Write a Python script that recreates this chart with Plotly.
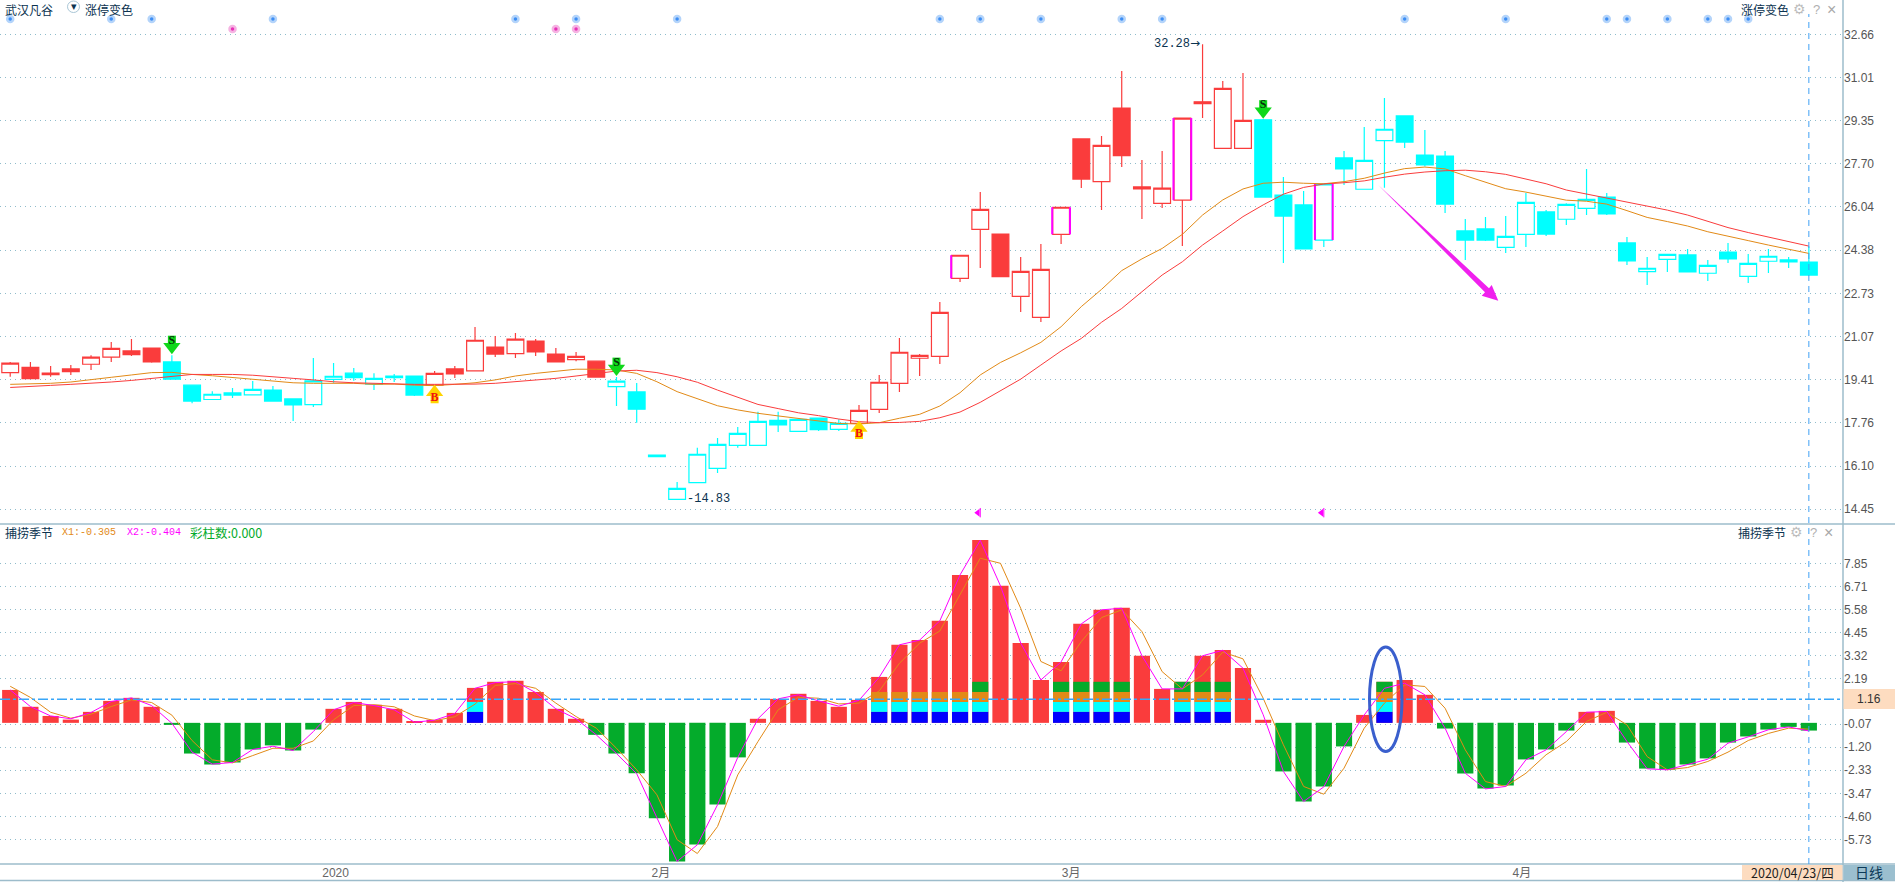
import plotly.graph_objects as go

W, H = 1895, 882
CJK = "Noto Sans CJK SC, Liberation Sans, sans-serif"
NUM = "Liberation Sans, Noto Sans CJK SC, sans-serif"

RED = "#fa3c3c"
CYAN = "#00ffff"
GREEN = "#04ab2b"
ORANGE = "#e28a17"
MAGENTA = "#ff00ff"
BLUE = "#0000ff"
GRID = "#8fbccb"
BORDER = "#9dbccb"
PEACH = "#fddcc0"
DARK = "#0b3350"

# Daily candles
high = [20.10, 20.10, 19.94, 19.98, 20.36, 20.86, 20.98, 20.63, 20.36, 19.21,
        18.98, 19.10, 19.37, 19.18, 18.68, 20.25, 20.06, 19.87, 19.67, 19.64,
        19.56, 19.75, 19.94, 21.44, 21.09, 21.21, 20.98, 20.63, 20.48, 20.13,
        19.52, 19.29, 16.53, 15.50, 16.81, 17.18, 17.60, 18.19, 18.19, 17.90,
        17.95, 17.90, 18.45, 19.60, 21.02, 20.40, 22.40, 24.20, 26.61, 25.00,
        24.12, 24.62, 26.03, 28.65, 28.76, 31.25, 27.84, 28.19, 29.45, 32.28,
        30.87, 31.18, 29.41, 27.19, 26.65, 26.92, 28.19, 29.11, 30.22, 29.53,
        28.99, 28.19, 25.58, 25.66, 25.69, 26.58, 25.92, 26.18, 27.50, 26.58,
        24.89, 24.12, 24.22, 24.43, 24.01, 24.66, 24.24, 24.43, 24.12, 24.53]
low = [19.53, 19.46, 19.53, 19.60, 19.79, 20.10, 20.33, 20.07, 19.43, 18.52,
       18.66, 18.72, 18.83, 18.60, 17.83, 18.37, 19.30, 19.38, 19.02, 19.33,
       18.79, 19.18, 19.48, 19.76, 20.29, 20.25, 20.33, 20.10, 20.13, 19.52,
       18.41, 17.77, 16.47, 14.83, 15.47, 15.84, 16.81, 16.90, 17.41, 17.44,
       17.45, 17.45, 17.72, 18.14, 18.95, 19.56, 20.02, 23.16, 23.70, 23.37,
       22.01, 21.63, 24.62, 26.77, 25.92, 27.57, 25.58, 26.00, 24.54, 29.45,
       28.29, 28.29, 26.42, 23.89, 24.43, 24.51, 26.88, 26.72, 26.78, 28.30,
       27.59, 25.81, 24.01, 24.74, 24.28, 24.51, 24.93, 25.35, 25.73, 25.73,
       23.82, 23.05, 23.55, 23.55, 23.20, 23.89, 23.13, 23.51, 23.70, 23.43]
opens = [19.69, 19.89, 19.67, 19.83, 20.01, 20.28, 20.52, 20.63, 20.10, 19.21,
         18.66, 18.91, 18.84, 19.02, 18.68, 18.46, 19.43, 19.67, 19.25, 19.56,
         19.56, 19.21, 19.83, 19.76, 20.67, 20.42, 20.90, 20.40, 20.19, 20.13,
         19.15, 18.95, 16.53, 14.83, 15.47, 16.02, 16.90, 16.90, 17.86, 17.44,
         17.95, 17.51, 17.74, 18.28, 19.28, 20.24, 20.31, 23.30, 25.18, 25.00,
         22.61, 21.81, 24.99, 28.65, 27.01, 29.83, 26.81, 26.18, 26.30, 30.07,
         28.29, 28.29, 29.38, 26.50, 26.12, 24.77, 27.92, 26.72, 28.58, 29.53,
         28.03, 27.99, 25.12, 25.20, 24.49, 24.99, 25.85, 25.57, 25.99, 26.42,
         24.66, 23.56, 24.03, 24.20, 23.50, 24.31, 23.38, 23.96, 24.01, 23.93]
closes = [20.05, 19.46, 19.61, 19.73, 20.28, 20.62, 20.38, 20.10, 19.44, 18.60,
          18.86, 18.83, 19.05, 18.60, 18.45, 19.37, 19.55, 19.50, 19.47, 19.50,
          18.83, 19.66, 19.64, 20.93, 20.40, 20.97, 20.48, 20.10, 20.31, 19.52,
          19.36, 18.29, 16.47, 15.25, 16.56, 16.94, 17.36, 17.82, 17.69, 17.90,
          17.50, 17.74, 18.24, 19.32, 20.47, 20.35, 22.00, 24.19, 25.95, 23.37,
          23.57, 23.65, 26.03, 27.11, 28.40, 28.01, 26.73, 26.76, 29.45, 30.00,
          30.59, 29.36, 26.42, 25.69, 24.43, 26.92, 27.50, 27.83, 29.02, 28.53,
          27.65, 26.15, 24.77, 24.77, 24.91, 26.22, 25.00, 26.14, 26.33, 25.77,
          23.97, 23.69, 24.22, 23.55, 23.80, 24.05, 23.88, 24.15, 23.93, 23.43]
red_days = [*range(0, 8), *range(21, 30), *range(42, 62)]
limit_left_days = [47, 52, 58, 65]
limit_right_days = [52, 58, 65]

# Two moving averages over the candles
ma_red = [19.12, 19.15, 19.20, 19.24, 19.28, 19.33, 19.39, 19.46, 19.55, 19.62,
          19.62, 19.62, 19.59, 19.52, 19.47, 19.41, 19.34, 19.30, 19.28, 19.25,
          19.24, 19.24, 19.24, 19.25, 19.28, 19.34, 19.41, 19.47, 19.56, 19.66,
          19.75, 19.78, 19.69, 19.53, 19.32, 19.02, 18.74, 18.47, 18.31, 18.15,
          18.04, 17.91, 17.81, 17.77, 17.78, 17.82, 17.96, 18.18, 18.55, 19.00,
          19.44, 19.98, 20.52, 21.00, 21.62, 22.15, 22.79, 23.43, 23.94, 24.58,
          25.12, 25.67, 26.12, 26.53, 26.79, 26.92, 26.97, 27.04, 27.18, 27.30,
          27.38, 27.43, 27.45, 27.39, 27.29, 27.11, 26.93, 26.69, 26.54, 26.37,
          26.23, 26.09, 25.92, 25.73, 25.50, 25.25, 25.06, 24.88, 24.70, 24.54]
ma_orange = [19.24, 19.25, 19.28, 19.33, 19.41, 19.51, 19.60, 19.69, 19.70, 19.62,
             19.57, 19.50, 19.44, 19.38, 19.30, 19.28, 19.28, 19.28, 19.24, 19.25,
             19.21, 19.19, 19.24, 19.30, 19.41, 19.56, 19.66, 19.75, 19.82, 19.82,
             19.79, 19.66, 19.34, 18.96, 18.68, 18.42, 18.26, 18.13, 18.03, 17.94,
             17.85, 17.74, 17.72, 17.77, 17.94, 18.09, 18.41, 18.92, 19.60, 20.08,
             20.45, 20.85, 21.45, 22.22, 22.88, 23.60, 24.05, 24.45, 24.99, 25.73,
             26.31, 26.73, 26.95, 26.99, 26.95, 26.93, 27.01, 27.14, 27.34, 27.51,
             27.57, 27.50, 27.24, 27.00, 26.74, 26.61, 26.45, 26.30, 26.26, 26.15,
             25.90, 25.64, 25.48, 25.31, 25.09, 24.93, 24.75, 24.58, 24.43, 24.26]

# Markers on the upper pane
blue_star_days = [0, 5, 7, 13, 25, 28, 33, 46, 48, 51, 55, 57, 69, 74, 79, 80, 82, 84, 85, 86]
pink_star_days = [11, 27, 28]
sell_days = [8, 30, 62]
sell_tips = [20.53, 19.69, 29.56]
buy_days = [21, 42]
buy_tips = [19.09, 17.72]
flag_days = [48, 65]

# Lower pane
hist = [1.62, 0.79, 0.34, 0.16, 0.54, 1.08, 1.23, 0.79, -0.10, -1.51,
        -2.05, -1.95, -1.31, -1.11, -1.36, -0.33, 0.69, 1.03, 0.89, 0.69,
        0.05, 0.15, 0.49, 1.72, 2.02, 2.07, 1.52, 0.69, 0.20, -0.59,
        -1.51, -2.48, -4.70, -6.82, -5.98, -4.02, -1.70, 0.20, 1.18, 1.43,
        1.08, 0.79, 1.13, 2.26, 3.84, 4.08, 5.02, 7.28, 9.00, 6.74,
        3.93, 2.11, 3.00, 4.87, 5.56, 5.66, 3.30, 1.67, 2.02, 3.30,
        3.59, 2.70, 0.15, -2.39, -3.87, -3.13, -1.16, 0.39, 2.02, 2.11,
        1.38, -0.28, -2.49, -3.23, -3.08, -1.80, -1.31, -0.38, 0.54, 0.59,
        -0.97, -2.25, -2.30, -2.05, -1.75, -0.97, -0.67, -0.33, -0.20, -0.38]
x2_line = [1.62, 0.80, 0.34, 0.20, 0.51, 1.05, 1.23, 0.85, -0.02, -1.44,
           -2.03, -1.95, -1.31, -1.15, -1.36, -0.43, 0.64, 1.00, 0.85, 0.64,
           0.03, 0.13, 0.46, 1.70, 1.98, 2.03, 1.49, 0.69, 0.20, -0.59,
           -1.51, -2.50, -4.67, -6.82, -6.00, -4.03, -1.70, 0.20, 1.18, 1.38,
           1.08, 0.82, 1.11, 2.24, 3.84, 4.07, 5.02, 7.28, 8.98, 6.74,
           3.93, 2.11, 3.00, 4.87, 5.56, 5.64, 3.30, 1.67, 1.67, 3.30,
           3.57, 2.69, 0.40, -2.39, -3.87, -3.15, -1.16, 0.39, 1.70, 1.95,
           1.38, -0.26, -2.48, -3.25, -3.13, -1.82, -1.33, -0.43, 0.52, 0.56,
           -0.92, -2.26, -2.31, -2.06, -1.79, -1.00, -0.69, -0.34, -0.20, -0.40]
x1_line = [1.80, 1.25, 0.52, 0.23, 0.43, 0.80, 1.13, 1.00, 0.38, -0.87,
           -1.82, -1.97, -1.61, -1.25, -1.25, -0.89, 0.15, 0.85, 0.89, 0.79,
           0.34, 0.11, 0.30, 0.92, 1.84, 1.93, 1.70, 0.97, 0.31, -0.26,
           -1.25, -2.31, -3.54, -5.75, -6.43, -5.10, -2.56, -0.92, 0.64, 1.26,
           1.21, 0.93, 0.97, 1.57, 2.93, 3.92, 4.52, 6.30, 8.10, 7.85,
           5.64, 3.02, 2.56, 4.00, 5.18, 5.56, 4.49, 2.52, 1.67, 2.36,
           3.48, 3.15, 1.21, -1.08, -3.13, -3.51, -2.23, -0.26, 0.97, 1.87,
           1.79, 0.72, -1.33, -2.89, -3.13, -2.48, -1.57, -0.92, 0.07, 0.52,
           -0.10, -1.66, -2.31, -2.20, -1.90, -1.44, -0.87, -0.52, -0.26, -0.31]

# Colour blocks stacked from zero: (days, base, height, colour)
blue_days = [23, *range(43, 49), *range(52, 56), 58, 59, 60, 68]
cyan_days = [23, *range(43, 49), *range(52, 56), 58, 59, 60, 68]
orange_days = [*range(43, 49), *range(52, 56), 58, 59, 60, 68]
green_days = [48, *range(52, 56), 58, 59, 60, 68]
block_bases = [0, 0.54, 1.03, 1.52]
block_heights = [0.54, 0.49, 0.49, 0.50]

upper_ticks = [32.66, 31.01, 29.35, 27.70, 26.04, 24.38, 22.73, 21.07, 19.41, 17.76, 16.10, 14.45]
lower_ticks = [7.85, 6.71, 5.58, 4.45, 3.32, 2.19, -0.07, -1.20, -2.33, -3.47, -4.60, -5.73]
lower_tick_text = ["7.85", "6.71", "5.58", "4.45", "3.32", "2.19", "-0.07", "-1.20", "-2.33", "-3.47", "-4.60", "-5.73"]
month_ticks = [16.1, 32.2, 52.5, 74.8]
month_labels = ["2020", "2月", "3月", "4月"]
ref_level = 1.16

days = list(range(len(high)))


def px(x):
    return x / W


def py(y):
    return 1 - y / H


PX_PRICE = 1 / 26.08  # one screen pixel in price units, upper pane

fig = go.Figure()

# Candles
for colour, picked in ((RED, red_days), (CYAN, [d for d in days if d not in red_days])):
    fig.add_trace(go.Candlestick(
        x=picked,
        open=[opens[d] for d in picked],
        high=[high[d] for d in picked],
        low=[low[d] for d in picked],
        close=[closes[d] for d in picked],
        increasing=dict(line=dict(color=colour, width=1.2), fillcolor="white"),
        decreasing=dict(line=dict(color=colour, width=1.2), fillcolor=colour),
        whiskerwidth=0,
        hoverinfo="skip",
    ))

# Magenta edges on limit-up days
limit_x, limit_y = [], []
for d in limit_left_days:
    bottom, top = sorted((opens[d], closes[d]))
    limit_x += [d - 0.44, d - 0.44, None]
    limit_y += [bottom, top, None]
for d in limit_right_days:
    bottom, top = sorted((opens[d], closes[d]))
    limit_x += [d + 0.44, d + 0.44, None]
    limit_y += [bottom, top, None]
fig.add_trace(go.Scatter(x=limit_x, y=limit_y, mode="lines", line=dict(color=MAGENTA, width=2), hoverinfo="skip"))

fig.add_trace(go.Scatter(x=days, y=ma_orange, mode="lines", line=dict(color=ORANGE, width=1), hoverinfo="skip"))
fig.add_trace(go.Scatter(x=days, y=ma_red, mode="lines", line=dict(color=RED, width=1), hoverinfo="skip"))

# Star rows along the top
fig.add_trace(go.Scatter(
    x=blue_star_days, y=[33.25] * len(blue_star_days), mode="markers",
    marker=dict(symbol="circle", size=6, color="#3d8ef5", line=dict(color="#b4d4fa", width=2.5)),
    hoverinfo="skip",
))
fig.add_trace(go.Scatter(
    x=pink_star_days, y=[32.86] * len(pink_star_days), mode="markers",
    marker=dict(symbol="circle", size=6, color="#e831b8", line=dict(color="#f5b3e2", width=2.5)),
    hoverinfo="skip",
))

# S and B arrows
fig.add_trace(go.Scatter(
    x=sell_days, y=[t + 11 * PX_PRICE for t in sell_tips], mode="markers",
    marker=dict(symbol="square", size=8, color="#0fd81a"), hoverinfo="skip",
))
fig.add_trace(go.Scatter(
    x=sell_days, y=[t + 4 * PX_PRICE for t in sell_tips], mode="markers",
    marker=dict(symbol="triangle-down", size=15, color="#0fd81a"), hoverinfo="skip",
))
fig.add_trace(go.Scatter(
    x=sell_days, y=[t + 10 * PX_PRICE for t in sell_tips], mode="text", text=["S"] * len(sell_days),
    textposition="middle center", textfont=dict(family="Liberation Serif", size=12, color="#05300a", weight="bold"),
    hoverinfo="skip",
))
fig.add_trace(go.Scatter(
    x=buy_days, y=[t - 11 * PX_PRICE for t in buy_tips], mode="markers",
    marker=dict(symbol="square", size=8, color="#ffd400"), hoverinfo="skip",
))
fig.add_trace(go.Scatter(
    x=buy_days, y=[t - 4 * PX_PRICE for t in buy_tips], mode="markers",
    marker=dict(symbol="triangle-up", size=15, color="#ffd400"), hoverinfo="skip",
))
fig.add_trace(go.Scatter(
    x=buy_days, y=[t - 10 * PX_PRICE for t in buy_tips], mode="text", text=["B"] * len(buy_days),
    textposition="middle center", textfont=dict(family="Liberation Serif", size=12, color="#f01010", weight="bold"),
    hoverinfo="skip",
))

# Small flags at the foot of the upper pane
flag_x, flag_y = [], []
for d in flag_days:
    flag_x += [d, d, None]
    flag_y += [14.5, 14.14, None]
fig.add_trace(go.Scatter(x=flag_x, y=flag_y, mode="lines", line=dict(color=MAGENTA, width=1), hoverinfo="skip"))
fig.add_trace(go.Scatter(
    x=[d - 0.12 for d in flag_days], y=[14.32] * len(flag_days), mode="markers",
    marker=dict(symbol="triangle-left", size=7, color=MAGENTA), hoverinfo="skip",
))

# Lower pane bars
fig.add_trace(go.Bar(
    x=days, y=hist, width=0.8, xaxis="x2", yaxis="y2",
    marker=dict(color=[RED if v > 0 else GREEN for v in hist], line=dict(width=0)),
    hoverinfo="skip",
))
for picked, base, height, colour in zip(
    (blue_days, cyan_days, orange_days, green_days), block_bases, block_heights, (BLUE, CYAN, ORANGE, GREEN)
):
    fig.add_trace(go.Bar(
        x=picked, y=[height] * len(picked), base=base, width=0.8, xaxis="x2", yaxis="y2",
        marker=dict(color=colour, line=dict(width=0)), hoverinfo="skip",
    ))
fig.add_trace(go.Scatter(x=days, y=x1_line, mode="lines", xaxis="x2", yaxis="y2",
                         line=dict(color=ORANGE, width=1), hoverinfo="skip"))
fig.add_trace(go.Scatter(x=days, y=x2_line, mode="lines", xaxis="x2", yaxis="y2",
                         line=dict(color=MAGENTA, width=1), hoverinfo="skip"))

x_range = [-0.505, 90.69]
x_domain = [0, px(1843)]
grid = dict(showgrid=True, gridcolor=GRID, gridwidth=1, griddash="1px,4px", zeroline=False,
            showline=False, ticks="", side="right", tickmode="array",
            tickfont=dict(family=NUM, size=12, color="#555555"))

fig.update_layout(
    width=W, height=H, autosize=False,
    margin=dict(l=0, r=0, t=0, b=0),
    paper_bgcolor="white", plot_bgcolor="white",
    showlegend=False, barmode="overlay", boxgap=0.17, boxgroupgap=0,
    hovermode=False,
    xaxis=dict(domain=x_domain, range=x_range, anchor="y", showticklabels=False, showgrid=False,
               zeroline=False, ticks="", rangeslider=dict(visible=False)),
    yaxis=dict(domain=[py(524), 1], range=[13.886, 33.975], anchor="x", tickvals=upper_ticks,
               ticktext=[f"{v:.2f}" for v in upper_ticks], **grid),
    xaxis2=dict(domain=x_domain, range=x_range, anchor="y2", showgrid=False, zeroline=False, ticks="",
                tickmode="array", tickvals=month_ticks, ticktext=month_labels,
                tickfont=dict(family=NUM, size=12, color="#666666")),
    yaxis2=dict(domain=[py(864), py(524)], range=[-6.945, 9.784], anchor="x2", tickvals=lower_ticks,
                ticktext=lower_tick_text, **grid),
)

# Frame and reference lines
shapes = [
    dict(type="line", xref="paper", yref="paper", x0=0, x1=1, y0=py(524), y1=py(524), line=dict(color=BORDER, width=1.5)),
    dict(type="line", xref="paper", yref="paper", x0=0, x1=1, y0=py(864), y1=py(864), line=dict(color=BORDER, width=1.5)),
    dict(type="line", xref="paper", yref="paper", x0=0, x1=1, y0=py(880.5), y1=py(880.5), line=dict(color=BORDER, width=1.5)),
    dict(type="line", xref="paper", yref="paper", x0=px(1843), x1=px(1843), y0=0, y1=1, line=dict(color=BORDER, width=1.5)),
    dict(type="line", xref="x", yref="paper", x0=days[-1], x1=days[-1], y0=py(864), y1=py(14),
         line=dict(color="#3fa0f5", width=1, dash="6px,5px")),
    dict(type="line", xref="x2", yref="y2", x0=x_range[0], x1=x_range[1], y0=ref_level, y1=ref_level,
         line=dict(color="#38a6f8", width=1.3, dash="10px,3px,3px,3px")),
    dict(type="rect", xref="paper", yref="paper", x0=px(1843.5), x1=1, y0=py(709), y1=py(689),
         fillcolor=PEACH, line=dict(width=0)),
    dict(type="rect", xref="paper", yref="paper", x0=px(1742), x1=px(1842.5), y0=py(880), y1=py(865),
         fillcolor=PEACH, line=dict(width=0)),
    dict(type="rect", xref="paper", yref="paper", x0=px(1843.5), x1=1, y0=py(880), y1=py(865),
         fillcolor="#9bbfcf", line=dict(width=0)),
    # Blue ring drawn by hand on the chart
    dict(type="circle", xref="paper", yref="paper", x0=px(1369.5), x1=px(1402), y0=py(751.5), y1=py(647),
         line=dict(color="#3a5fcd", width=3)),
    # Dropdown button next to the name
    dict(type="circle", xref="paper", yref="paper", x0=px(67.5), x1=px(79.5), y0=py(12.5), y1=py(1),
         line=dict(color="#a9c6d6", width=1), fillcolor="white"),
    # Big magenta arrow drawn by hand
    dict(type="path", xref="paper", yref="paper", fillcolor="#f020ee", line=dict(width=0),
         path="M {} {} L {} {} L {} {} L {} {} L {} {} L {} {} Z".format(
             px(1378.3), py(185), px(1489), py(288.3), px(1491.7), py(285), px(1498.3), py(300.7),
             px(1481.7), py(295.7), px(1485), py(292.3))),
]
fig.update_layout(shapes=shapes)


def label(x, y, text, color=DARK, size=12, family=CJK, anchor="left"):
    fig.add_annotation(xref="paper", yref="paper", x=px(x), y=py(y), text=text, showarrow=False,
                       xanchor=anchor, yanchor="middle", font=dict(family=family, size=size, color=color),
                       borderpad=0, borderwidth=0)


# Header of the upper pane
label(5, 9, "武汉凡谷", size=12)
label(73.5, 7, "▾", size=11, anchor="center", family="DejaVu Sans")
label(85, 9, "涨停变色", size=12)
label(1741, 9, "涨停变色", size=12)
label(1799, 9, "⚙", color="#bdbdbd", size=14, family="DejaVu Sans", anchor="center")
label(1816, 9, "?", color="#b0b0b0", size=13, family=NUM, anchor="center")
label(1831, 9, "×", color="#a8a8a8", size=16, family=NUM, anchor="center")

# Header of the lower pane
label(5, 532, "捕捞季节", size=12)
label(62, 532, "X1:-0.305", color=ORANGE, size=10, family="Liberation Mono")
label(127, 532, "X2:-0.404", color=MAGENTA, size=10, family="Liberation Mono")
label(190, 532, "彩柱数:0.000", color=GREEN, size=12.5)
label(1738, 532, "捕捞季节", size=12)
label(1796, 532, "⚙", color="#bdbdbd", size=14, family="DejaVu Sans", anchor="center")
label(1813, 532, "?", color="#b0b0b0", size=13, family=NUM, anchor="center")
label(1828, 532, "×", color="#a8a8a8", size=16, family=NUM, anchor="center")

# Value boxes
label(1869, 699, f"{ref_level:.2f}", color="#333333", size=12, family=NUM, anchor="center")
label(1792, 872, "2020/04/23/四", color="#1c1c1c", size=12.5, family=CJK, anchor="center")
label(1869, 872, "日线", color="#0d3a58", size=14, anchor="center")

# High and low of the period
fig.add_annotation(x=59, y=high[59], text='32.28<span style="font-family:DejaVu Sans">→</span>', showarrow=False,
                   xanchor="right", yanchor="middle", xshift=-1, yshift=1,
                   font=dict(family="Liberation Mono", size=12, color=DARK))
fig.add_annotation(x=33, y=low[33], text="-14.83", showarrow=False, xanchor="left", yanchor="middle",
                   xshift=8, font=dict(family="Liberation Mono", size=12, color=DARK))

fig.write_html("out.html", config={"displayModeBar": False},
               post_script="document.body.style.margin='0';document.body.style.overflow='hidden';")
